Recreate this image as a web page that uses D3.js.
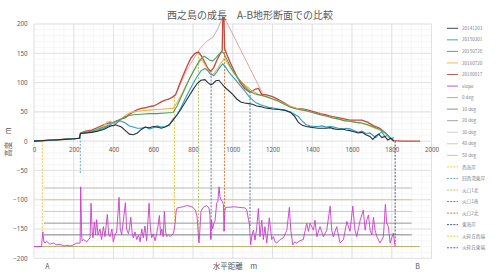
<!DOCTYPE html>
<html>
<head>
<meta charset="utf-8">
<script src="https://cdn.jsdelivr.net/npm/d3@7"></script>
<style>
body{margin:0;background:#fff}
svg{display:block;font-family:"Noto Sans CJK JP","Noto Sans",sans-serif}
</style>
</head>
<body>
<script>
// profile series: distance (m) and height (m)
const dist1412 = [0,50,100,150,200,228,234,260,290,320,350,380,410,440,460,480,500,520,540,560,580,600,620,640,660,680,700,720,740,760,780,800,820,840,860,875,890,900,915,930,945,960,980,1000,1020,1040,1060,1080,1100,1120,1140,1160,1180,1200,1230,1260,1290,1310,1330,1350,1370,1390,1410,1430,1450,1470,1490,1510,1530,1550,1570,1590,1610,1630,1650,1670,1690,1705,1720,1735,1750,1765,1780,1795,1810];
const elev1412 = [0,1,2,3,4,5,13,14,15,17,20,25,28,24,18,12,11,14,20,24,23,25,24,22,24,28,36,45,55,66,77,88,98,104,105,100,96,98,103,104,98,92,86,80,72,67,65,64,63,60,59,57,56,55,54,53,49,43,32,27,25,24,23,22,22,22,23,21,20,21,19,18,16,14,15,11,8,3,9,12,6,8,2,5,0];

const dist1503 = [0,100,200,228,234,260,290,320,350,380,400,420,440,460,480,500,520,540,560,580,600,620,640,660,680,700,720,740,760,780,800,820,840,860,875,890,905,920,935,950,965,980,1000,1020,1040,1060,1080,1100,1120,1140,1160,1180,1200,1230,1260,1290,1310,1330,1350,1370,1390,1410,1430,1450,1470,1490,1510,1530,1550,1570,1590,1610,1630,1650,1670,1690,1705,1720,1735,1750,1765,1780,1795,1810];
const elev1503 = [0,2,4,5,13,14,16,18,22,27,32,35,34,31,26,24,22,22,24,21,23,26,24,25,27,38,45,58,72,85,98,110,120,124,120,114,112,118,126,132,126,118,110,102,94,86,77,70,65,62,60,58,57,55,53,50,46,42,34,28,26,25,25,26,24,25,24,22,20,22,21,18,15,17,13,14,10,6,12,16,8,10,4,6,0];

const dist1507 = [0,100,200,228,234,260,290,320,350,380,400,420,440,460,480,500,540,580,620,660,700,720,740,760,780,800,820,840,855,870,885,900,915,930,945,955,970,990,1010,1030,1050,1070,1090,1110,1130,1150,1170,1200,1230,1260,1290,1320,1350,1380,1410,1440,1470,1500,1530,1560,1590,1620,1650,1680,1710,1740,1770,1790,1810];
const elev1507 = [0,2,4,5,13,15,17,20,24,28,26,32,38,42,44,45,46,47,47,48,49,60,75,90,105,118,130,140,145,142,138,137,142,148,153,150,140,126,115,106,98,90,84,81,79,78,76,72,68,63,58,55,53,51,48,45,43,40,38,35,34,32,31,28,24,20,14,7,0];

const dist1607 = [0,100,200,228,234,260,290,320,350,370,385,400,420,440,460,480,500,540,580,620,660,700,720,740,760,780,800,820,835,850,865,880,890,905,920,935,950,958,975,1000,1025,1050,1075,1100,1125,1150,1175,1200,1230,1260,1290,1320,1350,1380,1410,1440,1470,1500,1530,1560,1590,1620,1650,1680,1710,1740,1770,1790,1810];
const elev1607 = [0,2,4,5,13,15,17,21,26,33,34,30,32,38,44,48,50,52,53,54,55,56,66,78,92,105,118,130,140,136,128,118,113,115,122,130,138,142,132,119,108,99,92,85,81,77,75,72,69,64,59,56,54,51,48,45,43,40,38,35,34,32,30,27,23,19,13,6,0];

const dist1808 = [0,100,200,228,234,260,290,320,350,380,400,420,440,460,480,500,520,540,560,580,600,620,640,660,680,700,712,730,750,770,790,810,828,845,860,875,889,905,920,935,947,950,956,959,975,990,1010,1035,1060,1085,1100,1115,1130,1145,1170,1200,1230,1260,1290,1320,1350,1380,1410,1440,1470,1500,1530,1560,1590,1620,1650,1680,1710,1740,1770,1790,1810,1850,1900,1943];
const elev1808 = [0,2,4,5,14,17,19,23,28,31,32,35,38,40,46,50,54,56,57,59,60,63,67,70,72,76,79,95,112,128,142,150,152,144,134,124,119,126,138,148,155,210,210,158,144,132,118,101,90,84,86,89,90,80,79,76,71,65,59,56,55,53,50,47,45,42,40,38,36,36,36,32,26,22,13,6,1,0,0,0];

const distCone = [712,768,835,868,902,926,950,956,1154];
const elevCone = [79,121,158,170,178,193,212,212,79];

// slope profile (plotted offset below the section)
const distSlope = [0,38,44,50,55,64,80,97,115,131,150,164,185,198,215,232,235,240,242,250,265,282,287,293,297,304,310,315,322,332,340,349,357,369,376,383,392,399,408,416,428,434,441,448,460,466,475,480,487,494,500,508,517,526,534,542,550,558,567,579,586,592,600,609,617,624,631,637,643,650,656,662,668,676,685,693,701,706,710,715,720,735,750,768,785,800,812,820,826,830,834,840,852,869,880,885,888,890,893,899,905,911,919,925,931,936,940,948,953,956,960,964,980,1003,1030,1062,1070,1080,1084,1090,1097,1104,1112,1120,1129,1137,1146,1154,1162,1171,1184,1196,1205,1213,1221,1238,1255,1272,1285,1292,1302,1312,1322,1338,1355,1372,1381,1389,1406,1414,1423,1439,1456,1473,1490,1498,1506,1523,1540,1557,1574,1590,1604,1615,1624,1641,1657,1666,1674,1683,1691,1700,1708,1716,1725,1741,1758,1768,1775,1783,1792,1800,1808,1813,1817];
const valSlope = [-180,-180,-155,-172,-174,-171,-176,-174,-177,-176,-179,-178,-179,-177,-174,-174,-78,-160,-170,-168,-172,-165,-106,-155,-165,-138,-160,-134,-160,-150,-168,-146,-163,-125,-160,-163,-150,-172,-160,-155,-96,-150,-160,-140,-105,-150,-158,-150,-130,-158,-165,-155,-168,-160,-172,-150,-165,-145,-170,-106,-150,-165,-158,-170,-158,-145,-127,-160,-150,-163,-120,-155,-163,-160,-163,-160,-158,-150,-140,-120,-114,-113,-112,-110,-111,-113,-118,-128,-155,-174,-155,-120,-113,-110,-114,-125,-155,-168,-135,-150,-140,-136,-106,-103,-78,-95,-100,-103,-108,-154,-120,-113,-113,-112,-113,-114,-117,-135,-142,-177,-160,-152,-169,-150,-115,-163,-135,-168,-146,-174,-131,-168,-163,-172,-174,-168,-165,-152,-113,-152,-177,-172,-174,-170,-168,-140,-154,-140,-152,-135,-163,-146,-163,-152,-111,-152,-163,-146,-174,-168,-137,-154,-111,-152,-163,-135,-118,-152,-135,-126,-152,-160,-130,-152,-163,-174,-163,-108,-140,-146,-174,-165,-157,-170,-180];

// slope reference levels
const degNames = ["0 deg","10 deg","20 deg","30 deg","40 deg","50 deg"];
const degLevel = [-180,-160,-140,-120,-100,-80];
const degFrom = [0,50,50,50,50,50];
const degTo = [1940,1900,1900,1900,1900,1900];

// vertical markers
const markNames = ["西海岸","旧西湾東岸","火口1北","火口1南","火口2北","東海岸","火砕丘西端","火砕丘東端"];
const markDist = [42,233,828,891,959,1817,707,1087];
const markTop = [0,7,150,117,158,0,76,85];
const markBottom = [-155,-57,-170,-168,-154,-176,-140,-145];

const xTicks = [0,200,400,600,800,1000,1200,1400,1600,1800,2000];
const yTicks = [-200,-150,-100,-50,0,50,100,150,200];

const seriesNames = ["20141203","20150301","20150728","20160720","20180817","slope"];

const width = 500, height = 274;
const ink = "#595959";

const svg = d3.select("body").append("svg")
    .attr("width", width)
    .attr("height", height);

const x = d3.scaleLinear().domain([0, 2000]).range([34, 431.5]);
const y = d3.scaleLinear().domain([-200, 200]).range([258.3, 24]);

// minor grid
svg.append("g").selectAll("line").data(x.ticks(40)).join("line")
    .attr("x1", d => x(d)).attr("x2", d => x(d))
    .attr("y1", y(200)).attr("y2", y(-200))
    .attr("stroke", "#f0f0f0").attr("stroke-width", 0.6);
svg.append("g").selectAll("line").data(y.ticks(40)).join("line")
    .attr("x1", x(0)).attr("x2", x(2000))
    .attr("y1", d => y(d)).attr("y2", d => y(d))
    .attr("stroke", "#f0f0f0").attr("stroke-width", 0.6);
// major grid
svg.append("g").selectAll("line").data(xTicks).join("line")
    .attr("x1", d => x(d)).attr("x2", d => x(d))
    .attr("y1", y(200)).attr("y2", y(-200))
    .attr("stroke", "#d9d9d9").attr("stroke-width", 0.7);
svg.append("g").selectAll("line").data(yTicks).join("line")
    .attr("x1", x(0)).attr("x2", x(2000))
    .attr("y1", d => y(d)).attr("y2", d => y(d))
    .attr("stroke", "#d9d9d9").attr("stroke-width", 0.7);

// axes
const yAxis = svg.append("g")
    .attr("transform", `translate(${x(0)},0)`)
    .call(d3.axisLeft(y).tickValues(yTicks).tickSize(0).tickPadding(6.5).tickFormat(d3.format("d")));
const xAxis = svg.append("g")
    .attr("transform", `translate(0,${y(0)})`)
    .call(d3.axisBottom(x).tickValues(xTicks).tickSize(0).tickPadding(6.5).tickFormat(d3.format("d")));
[xAxis, yAxis].forEach(a => {
    a.select(".domain").remove();
    a.selectAll("text").attr("fill", ink).attr("font-size", 6.2)
        .attr("font-family", "'Noto Sans', sans-serif");
});

const line = d3.line().x(d => x(d[0])).y(d => y(d[1]));

// reference levels
const degColors = ["#b5ae60","#7d8390","#9b9b9b","#cacaca","#e3c09a","#bdbdbd"];
degLevel.forEach((v, i) => {
    svg.append("path")
        .attr("d", line([[degFrom[i], v], [degTo[i], v]]))
        .attr("fill", "none").attr("stroke", degColors[i]).attr("stroke-width", 1);
});

// markers
const markColors = ["#f2c23a","#5b9bd5","#a9c24a","#4a6fa0","#d2651e","#2f3f66","#f0c030","#3a5ea8"];
markDist.forEach((v, i) => {
    svg.append("path")
        .attr("d", line([[v, markTop[i]], [v, markBottom[i]]]))
        .attr("fill", "none").attr("stroke", markColors[i])
        .attr("stroke-width", 0.9).attr("stroke-dasharray", "2,1.4");
});

// slope
const slopeColor = "#c83cc8";
svg.append("path")
    .attr("d", line(d3.zip(distSlope, valSlope)))
    .attr("fill", "none").attr("stroke", slopeColor).attr("stroke-width", 0.9);

// profiles
const profColors = ["#26303f","#2a9fc2","#4f9d60","#e8b648","#c9473b"];
const profiles = [
    [dist1412, elev1412], [dist1503, elev1503], [dist1507, elev1507],
    [dist1607, elev1607], [dist1808, elev1808]
];
svg.append("path")
    .attr("d", line(d3.zip(distCone, elevCone)))
    .attr("fill", "none").attr("stroke", "#dc8e8e").attr("stroke-width", 0.8);
[4, 3, 2, 1, 0].forEach(i => {
    svg.append("path")
        .attr("d", line(d3.zip(profiles[i][0], profiles[i][1])))
        .attr("fill", "none").attr("stroke", profColors[i])
        .attr("stroke-width", i === 4 ? 1.3 : 1.1);
});

// titles
svg.append("text").attr("x", 250).attr("y", 18.5).attr("text-anchor", "middle")
    .attr("font-size", 10).attr("fill", ink)
    .text("西之島の成長　A-B地形断面での比較");
svg.append("text").attr("x", 235).attr("y", 268.5).attr("text-anchor", "middle")
    .attr("font-size", 7.5).attr("fill", ink).text("水平距離　m");
svg.append("text").attr("transform", "translate(10.5,142) rotate(-90)")
    .attr("text-anchor", "middle").attr("font-size", 7.5).attr("fill", ink).text("高度　m");
svg.append("text").attr("x", 47.5).attr("y", 268.5).attr("text-anchor", "middle")
    .attr("font-size", 7).attr("fill", ink).text("A");
svg.append("text").attr("x", 417.5).attr("y", 268.5).attr("text-anchor", "middle")
    .attr("font-size", 7).attr("fill", ink).text("B");

// legend
const legendItems = [];
seriesNames.forEach((n, i) => legendItems.push({ name: n, color: i < 5 ? profColors[i] : slopeColor, dash: null }));
degNames.forEach((n, i) => legendItems.push({ name: n, color: degColors[i], dash: null }));
markNames.forEach((n, i) => legendItems.push({ name: n, color: markColors[i], dash: "2,1.2" }));

const lg = svg.append("g").attr("transform", "translate(447,28.3)");
const li = lg.selectAll("g").data(legendItems).join("g")
    .attr("transform", (d, i) => `translate(0,${i * 11.55})`);
li.append("line").attr("x1", 0).attr("x2", 11).attr("y1", 0).attr("y2", 0)
    .attr("stroke", d => d.color).attr("stroke-width", 0.9)
    .attr("stroke-dasharray", d => d.dash);
li.append("text").attr("x", 15).attr("y", 1.6)
    .attr("font-size", 4.6).attr("fill", "#7f7f7f").text(d => d.name);
</script>
</body>
</html>
